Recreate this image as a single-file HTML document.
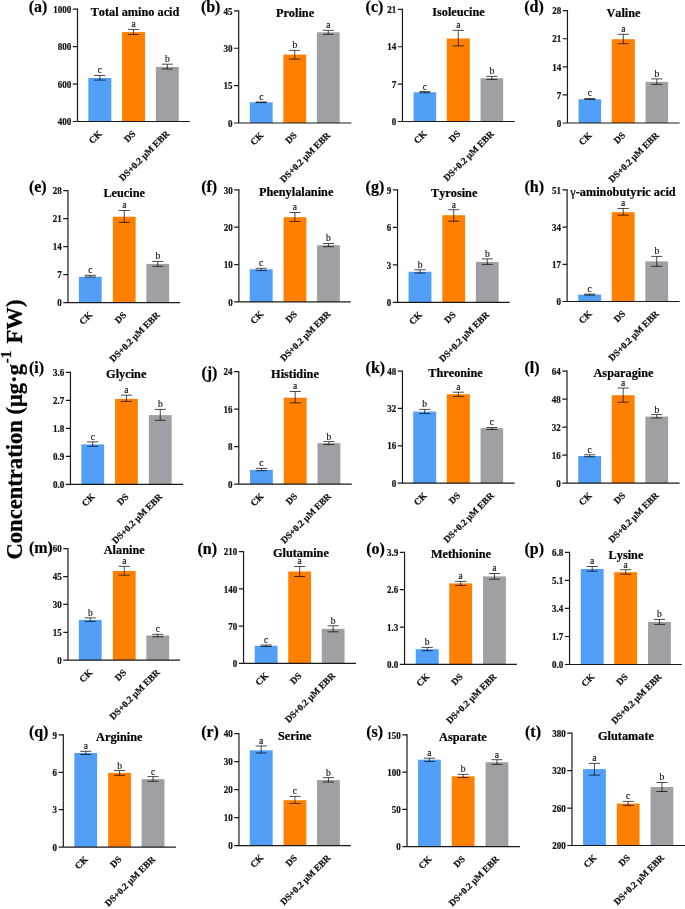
<!DOCTYPE html>
<html><head><meta charset="utf-8"><style>
html,body{margin:0;padding:0;background:#fff;}
svg{display:block;will-change:transform;}
text{font-family:"Liberation Serif",serif;fill:#111;font-kerning:none;}
.pl{font-size:16px;font-weight:bold;fill:#000;stroke:#000;stroke-width:0.2px;}
.tt{font-size:12.3px;font-weight:bold;text-anchor:middle;fill:#000;stroke:#000;stroke-width:0.2px;}
.tk{font-size:9px;font-weight:bold;text-anchor:end;stroke:#111;stroke-width:0.2px;}
.lt{font-size:9.5px;text-anchor:middle;fill:#111;stroke:#111;stroke-width:0.15px;}
.xl{font-size:9.3px;font-weight:bold;text-anchor:end;stroke:#111;stroke-width:0.25px;}
.yl{font-size:23px;font-weight:bold;text-anchor:middle;fill:#000;stroke:#000;stroke-width:0.25px;}
</style></head><body>
<svg width="685" height="909" viewBox="0 0 685 909">
<rect width="685" height="909" fill="#fff"/>
<rect x="88.35" y="78" width="23" height="43.5" fill="#529ff8"/>
<rect x="122.05" y="32.1" width="23" height="89.4" fill="#ff8000"/>
<rect x="155.85" y="66.9" width="22.9" height="54.6" fill="#a09fa4"/>
<path d="M94.22 75.5H105.47M99.85 75.5V80.1M94.22 80.1H105.47" stroke="#000" stroke-opacity="0.7" stroke-width="1" fill="none"/>
<text x="99.85" y="73.4" class="lt">c</text>
<path d="M127.93 29.4H139.18M133.55 29.4V34.5M127.93 34.5H139.18" stroke="#000" stroke-opacity="0.7" stroke-width="1" fill="none"/>
<text x="133.55" y="27.3" class="lt">a</text>
<path d="M161.7 64.2H172.9M167.3 64.2V69M161.7 69H172.9" stroke="#000" stroke-opacity="0.7" stroke-width="1" fill="none"/>
<text x="167.3" y="62.1" class="lt">b</text>
<path d="M77.5 8.6V121.5M72.8 121.5H189.8" stroke="#1a1a1a" stroke-width="1.2" fill="none"/>
<path d="M72.8 9.2H77.5M72.8 46.63H77.5M72.8 84.07H77.5" stroke="#1a1a1a" stroke-width="1.2" fill="none"/>
<text transform="translate(71.3 12.85) scale(1 1.06)" class="tk">1000</text>
<text transform="translate(71.3 50.28) scale(1 1.06)" class="tk">800</text>
<text transform="translate(71.3 87.71) scale(1 1.06)" class="tk">600</text>
<text transform="translate(71.3 125.15) scale(1 1.06)" class="tk">400</text>
<text transform="translate(102.45 134.4) rotate(-45)" class="xl">CK</text>
<text transform="translate(136.15 134.4) rotate(-45)" class="xl">DS</text>
<text transform="translate(169.9 134.4) rotate(-45)" class="xl">DS+0.2 μM EBR</text>
<text transform="translate(135 15.7) scale(1 1.06)" class="tt">Total amino acid</text>
<text x="28.7" y="11.95" class="pl">(a)</text>
<rect x="249.85" y="102.3" width="22.8" height="20.7" fill="#529ff8"/>
<rect x="283.35" y="54.6" width="22.8" height="68.4" fill="#ff8000"/>
<rect x="316.85" y="32.3" width="22.8" height="90.7" fill="#a09fa4"/>
<path d="M255.68 102H266.82M261.25 102V102.6M255.68 102.6H266.82" stroke="#000" stroke-opacity="0.7" stroke-width="1" fill="none"/>
<text x="261.25" y="99.9" class="lt">c</text>
<path d="M289.18 50.4H300.32M294.75 50.4V59.1M289.18 59.1H300.32" stroke="#000" stroke-opacity="0.7" stroke-width="1" fill="none"/>
<text x="294.75" y="48.3" class="lt">b</text>
<path d="M322.68 30.3H333.82M328.25 30.3V34.3M322.68 34.3H333.82" stroke="#000" stroke-opacity="0.7" stroke-width="1" fill="none"/>
<text x="328.25" y="28.2" class="lt">a</text>
<path d="M238.7 10.3V123M234 123H351.3" stroke="#1a1a1a" stroke-width="1.2" fill="none"/>
<path d="M234 10.9H238.7M234 48.27H238.7M234 85.63H238.7" stroke="#1a1a1a" stroke-width="1.2" fill="none"/>
<text transform="translate(232.5 14.55) scale(1 1.06)" class="tk">45</text>
<text transform="translate(232.5 51.91) scale(1 1.06)" class="tk">30</text>
<text transform="translate(232.5 89.28) scale(1 1.06)" class="tk">15</text>
<text transform="translate(232.5 126.65) scale(1 1.06)" class="tk">0</text>
<text transform="translate(263.85 135.9) rotate(-45)" class="xl">CK</text>
<text transform="translate(297.35 135.9) rotate(-45)" class="xl">DS</text>
<text transform="translate(330.85 135.9) rotate(-45)" class="xl">DS+0.2 μM EBR</text>
<text transform="translate(295 17.3) scale(1 1.06)" class="tt">Proline</text>
<text x="200.9" y="12.05" class="pl">(b)</text>
<rect x="413.55" y="92.3" width="22.6" height="29.2" fill="#529ff8"/>
<rect x="446.75" y="38.5" width="23.1" height="83" fill="#ff8000"/>
<rect x="480.55" y="78.2" width="22.6" height="43.3" fill="#a09fa4"/>
<path d="M419.33 91.6H430.38M424.85 91.6V92.8M419.33 92.8H430.38" stroke="#000" stroke-opacity="0.7" stroke-width="1" fill="none"/>
<text x="424.85" y="89.5" class="lt">c</text>
<path d="M452.65 30.3H463.95M458.3 30.3V45.9M452.65 45.9H463.95" stroke="#000" stroke-opacity="0.7" stroke-width="1" fill="none"/>
<text x="458.3" y="28.2" class="lt">a</text>
<path d="M486.33 76.4H497.38M491.85 76.4V79.4M486.33 79.4H497.38" stroke="#000" stroke-opacity="0.7" stroke-width="1" fill="none"/>
<text x="491.85" y="74.3" class="lt">b</text>
<path d="M402.45 8.8V121.5M397.75 121.5H514.6" stroke="#1a1a1a" stroke-width="1.2" fill="none"/>
<path d="M397.75 9.4H402.45M397.75 46.77H402.45M397.75 84.13H402.45" stroke="#1a1a1a" stroke-width="1.2" fill="none"/>
<text transform="translate(396.25 13.05) scale(1 1.06)" class="tk">21</text>
<text transform="translate(396.25 50.41) scale(1 1.06)" class="tk">14</text>
<text transform="translate(396.25 87.78) scale(1 1.06)" class="tk">7</text>
<text transform="translate(396.25 125.15) scale(1 1.06)" class="tk">0</text>
<text transform="translate(427.45 134.4) rotate(-45)" class="xl">CK</text>
<text transform="translate(460.9 134.4) rotate(-45)" class="xl">DS</text>
<text transform="translate(494.45 134.4) rotate(-45)" class="xl">DS+0.2 μM EBR</text>
<text transform="translate(458.5 15.5) scale(1 1.06)" class="tt">Isoleucine</text>
<text x="365.6" y="12.05" class="pl">(c)</text>
<rect x="578.55" y="99.3" width="22.6" height="23.7" fill="#529ff8"/>
<rect x="611.75" y="39.2" width="23.1" height="83.8" fill="#ff8000"/>
<rect x="645.55" y="81.9" width="22.6" height="41.1" fill="#a09fa4"/>
<path d="M584.32 98.5H595.37M589.85 98.5V99.5M584.32 99.5H595.37" stroke="#000" stroke-opacity="0.7" stroke-width="1" fill="none"/>
<text x="589.85" y="96.4" class="lt">c</text>
<path d="M617.65 34.3H628.95M623.3 34.3V43.7M617.65 43.7H628.95" stroke="#000" stroke-opacity="0.7" stroke-width="1" fill="none"/>
<text x="623.3" y="32.2" class="lt">a</text>
<path d="M651.32 78.9H662.37M656.85 78.9V84.4M651.32 84.4H662.37" stroke="#000" stroke-opacity="0.7" stroke-width="1" fill="none"/>
<text x="656.85" y="76.8" class="lt">b</text>
<path d="M567.45 10.1V123M562.75 123H679.6" stroke="#1a1a1a" stroke-width="1.2" fill="none"/>
<path d="M562.75 10.7H567.45M562.75 38.77H567.45M562.75 66.85H567.45M562.75 94.92H567.45" stroke="#1a1a1a" stroke-width="1.2" fill="none"/>
<text transform="translate(561.25 14.35) scale(1 1.06)" class="tk">28</text>
<text transform="translate(561.25 42.42) scale(1 1.06)" class="tk">21</text>
<text transform="translate(561.25 70.5) scale(1 1.06)" class="tk">14</text>
<text transform="translate(561.25 98.57) scale(1 1.06)" class="tk">7</text>
<text transform="translate(561.25 126.65) scale(1 1.06)" class="tk">0</text>
<text transform="translate(592.45 135.9) rotate(-45)" class="xl">CK</text>
<text transform="translate(625.9 135.9) rotate(-45)" class="xl">DS</text>
<text transform="translate(659.45 135.9) rotate(-45)" class="xl">DS+0.2 μM EBR</text>
<text transform="translate(623.5 16.5) scale(1 1.06)" class="tt">Valine</text>
<text x="524.2" y="11.95" class="pl">(d)</text>
<rect x="78.85" y="276.8" width="22.8" height="25.8" fill="#529ff8"/>
<rect x="112.85" y="216.7" width="22.8" height="85.9" fill="#ff8000"/>
<rect x="146.35" y="263.9" width="22.8" height="38.7" fill="#a09fa4"/>
<path d="M84.67 275.3H95.83M90.25 275.3V277M84.67 277H95.83" stroke="#000" stroke-opacity="0.7" stroke-width="1" fill="none"/>
<text x="90.25" y="273.2" class="lt">c</text>
<path d="M118.67 210.5H129.82M124.25 210.5V222.4M118.67 222.4H129.82" stroke="#000" stroke-opacity="0.7" stroke-width="1" fill="none"/>
<text x="124.25" y="208.4" class="lt">a</text>
<path d="M152.18 261.4H163.32M157.75 261.4V266.3M152.18 266.3H163.32" stroke="#000" stroke-opacity="0.7" stroke-width="1" fill="none"/>
<text x="157.75" y="259.3" class="lt">b</text>
<path d="M67.95 190V302.6M63.25 302.6H180.1" stroke="#1a1a1a" stroke-width="1.2" fill="none"/>
<path d="M63.25 190.6H67.95M63.25 218.6H67.95M63.25 246.6H67.95M63.25 274.6H67.95" stroke="#1a1a1a" stroke-width="1.2" fill="none"/>
<text transform="translate(61.75 194.25) scale(1 1.06)" class="tk">28</text>
<text transform="translate(61.75 222.25) scale(1 1.06)" class="tk">21</text>
<text transform="translate(61.75 250.25) scale(1 1.06)" class="tk">14</text>
<text transform="translate(61.75 278.25) scale(1 1.06)" class="tk">7</text>
<text transform="translate(61.75 306.25) scale(1 1.06)" class="tk">0</text>
<text transform="translate(92.85 315.5) rotate(-45)" class="xl">CK</text>
<text transform="translate(126.85 315.5) rotate(-45)" class="xl">DS</text>
<text transform="translate(160.35 315.5) rotate(-45)" class="xl">DS+0.2 μM EBR</text>
<text transform="translate(124.2 197.2) scale(1 1.06)" class="tt">Leucine</text>
<text x="28.9" y="191.7" class="pl">(e)</text>
<rect x="249.75" y="269.3" width="22.9" height="32.55" fill="#529ff8"/>
<rect x="283.55" y="217.2" width="22.8" height="84.65" fill="#ff8000"/>
<rect x="317.05" y="245.2" width="22.8" height="56.65" fill="#a09fa4"/>
<path d="M255.6 268.3H266.8M261.2 268.3V270.6M255.6 270.6H266.8" stroke="#000" stroke-opacity="0.7" stroke-width="1" fill="none"/>
<text x="261.2" y="266.2" class="lt">c</text>
<path d="M289.38 212.5H300.53M294.95 212.5V221.4M289.38 221.4H300.53" stroke="#000" stroke-opacity="0.7" stroke-width="1" fill="none"/>
<text x="294.95" y="210.4" class="lt">a</text>
<path d="M322.88 243.5H334.03M328.45 243.5V246.7M322.88 246.7H334.03" stroke="#000" stroke-opacity="0.7" stroke-width="1" fill="none"/>
<text x="328.45" y="241.4" class="lt">b</text>
<path d="M238.9 189.3V301.85M234.2 301.85H350.8" stroke="#1a1a1a" stroke-width="1.2" fill="none"/>
<path d="M234.2 189.9H238.9M234.2 227.22H238.9M234.2 264.53H238.9" stroke="#1a1a1a" stroke-width="1.2" fill="none"/>
<text transform="translate(232.7 193.55) scale(1 1.06)" class="tk">30</text>
<text transform="translate(232.7 230.86) scale(1 1.06)" class="tk">20</text>
<text transform="translate(232.7 268.18) scale(1 1.06)" class="tk">10</text>
<text transform="translate(232.7 305.5) scale(1 1.06)" class="tk">0</text>
<text transform="translate(263.8 314.75) rotate(-45)" class="xl">CK</text>
<text transform="translate(297.55 314.75) rotate(-45)" class="xl">DS</text>
<text transform="translate(331.05 314.75) rotate(-45)" class="xl">DS+0.2 μM EBR</text>
<text transform="translate(296.2 196) scale(1 1.06)" class="tt">Phenylalanine</text>
<text x="201.2" y="191.85" class="pl">(f)</text>
<rect x="408.55" y="271.8" width="22.9" height="30.6" fill="#529ff8"/>
<rect x="442.35" y="215.2" width="22.8" height="87.2" fill="#ff8000"/>
<rect x="475.85" y="261.9" width="22.8" height="40.5" fill="#a09fa4"/>
<path d="M414.4 269.8H425.6M420 269.8V273M414.4 273H425.6" stroke="#000" stroke-opacity="0.7" stroke-width="1" fill="none"/>
<text x="420" y="267.7" class="lt">b</text>
<path d="M448.18 209.7H459.32M453.75 209.7V221.2M448.18 221.2H459.32" stroke="#000" stroke-opacity="0.7" stroke-width="1" fill="none"/>
<text x="453.75" y="207.6" class="lt">a</text>
<path d="M481.68 258.9H492.82M487.25 258.9V264.4M481.68 264.4H492.82" stroke="#000" stroke-opacity="0.7" stroke-width="1" fill="none"/>
<text x="487.25" y="256.8" class="lt">b</text>
<path d="M397.55 189.3V302.4M392.85 302.4H509.6" stroke="#1a1a1a" stroke-width="1.2" fill="none"/>
<path d="M392.85 189.9H397.55M392.85 227.4H397.55M392.85 264.9H397.55" stroke="#1a1a1a" stroke-width="1.2" fill="none"/>
<text transform="translate(391.35 193.55) scale(1 1.06)" class="tk">9</text>
<text transform="translate(391.35 231.05) scale(1 1.06)" class="tk">6</text>
<text transform="translate(391.35 268.55) scale(1 1.06)" class="tk">3</text>
<text transform="translate(391.35 306.05) scale(1 1.06)" class="tk">0</text>
<text transform="translate(422.6 315.3) rotate(-45)" class="xl">CK</text>
<text transform="translate(456.35 315.3) rotate(-45)" class="xl">DS</text>
<text transform="translate(489.85 315.3) rotate(-45)" class="xl">DS+0.2 μM EBR</text>
<text transform="translate(454.2 196.5) scale(1 1.06)" class="tt">Tyrosine</text>
<text x="365.6" y="191.75" class="pl">(g)</text>
<rect x="578.25" y="294.6" width="22.9" height="6.9" fill="#529ff8"/>
<rect x="611.75" y="212.2" width="22.9" height="89.3" fill="#ff8000"/>
<rect x="645.35" y="261.4" width="22.8" height="40.1" fill="#a09fa4"/>
<path d="M584.1 294.1H595.3M589.7 294.1V295.1M584.1 295.1H595.3" stroke="#000" stroke-opacity="0.7" stroke-width="1" fill="none"/>
<text x="589.7" y="292" class="lt">c</text>
<path d="M617.6 208.5H628.8M623.2 208.5V215.2M617.6 215.2H628.8" stroke="#000" stroke-opacity="0.7" stroke-width="1" fill="none"/>
<text x="623.2" y="206.4" class="lt">a</text>
<path d="M651.17 256.4H662.33M656.75 256.4V266.3M651.17 266.3H662.33" stroke="#000" stroke-opacity="0.7" stroke-width="1" fill="none"/>
<text x="656.75" y="254.3" class="lt">b</text>
<path d="M567.1 189.3V301.5M562.4 301.5H679.6" stroke="#1a1a1a" stroke-width="1.2" fill="none"/>
<path d="M562.4 189.9H567.1M562.4 227.1H567.1M562.4 264.3H567.1" stroke="#1a1a1a" stroke-width="1.2" fill="none"/>
<text transform="translate(560.9 193.55) scale(1 1.06)" class="tk">51</text>
<text transform="translate(560.9 230.75) scale(1 1.06)" class="tk">34</text>
<text transform="translate(560.9 267.95) scale(1 1.06)" class="tk">17</text>
<text transform="translate(560.9 305.15) scale(1 1.06)" class="tk">0</text>
<text transform="translate(592.3 314.4) rotate(-45)" class="xl">CK</text>
<text transform="translate(625.8 314.4) rotate(-45)" class="xl">DS</text>
<text transform="translate(659.35 314.4) rotate(-45)" class="xl">DS+0.2 μM EBR</text>
<text transform="translate(623 195.5) scale(1 1.06)" class="tt"><tspan font-weight="normal">γ</tspan>-aminobutyric acid</text>
<text x="524.5" y="192.05" class="pl">(h)</text>
<rect x="81.35" y="444.4" width="22.8" height="39.95" fill="#529ff8"/>
<rect x="115.05" y="398.9" width="22.8" height="85.45" fill="#ff8000"/>
<rect x="148.85" y="415.1" width="22.8" height="69.25" fill="#a09fa4"/>
<path d="M87.17 441.9H98.33M92.75 441.9V446.3M87.17 446.3H98.33" stroke="#000" stroke-opacity="0.7" stroke-width="1" fill="none"/>
<text x="92.75" y="439.8" class="lt">c</text>
<path d="M120.87 395.2H132.02M126.45 395.2V401.4M120.87 401.4H132.02" stroke="#000" stroke-opacity="0.7" stroke-width="1" fill="none"/>
<text x="126.45" y="393.1" class="lt">a</text>
<path d="M154.68 409.4H165.82M160.25 409.4V420.3M154.68 420.3H165.82" stroke="#000" stroke-opacity="0.7" stroke-width="1" fill="none"/>
<text x="160.25" y="407.3" class="lt">b</text>
<path d="M70.45 371.8V484.35M65.75 484.35H183.1" stroke="#1a1a1a" stroke-width="1.2" fill="none"/>
<path d="M65.75 372.4H70.45M65.75 400.39H70.45M65.75 428.38H70.45M65.75 456.36H70.45" stroke="#1a1a1a" stroke-width="1.2" fill="none"/>
<text transform="translate(64.25 376.05) scale(1 1.06)" class="tk">3.6</text>
<text transform="translate(64.25 404.04) scale(1 1.06)" class="tk">2.7</text>
<text transform="translate(64.25 432.02) scale(1 1.06)" class="tk">1.8</text>
<text transform="translate(64.25 460.01) scale(1 1.06)" class="tk">0.9</text>
<text transform="translate(64.25 488) scale(1 1.06)" class="tk">0.0</text>
<text transform="translate(95.35 497.25) rotate(-45)" class="xl">CK</text>
<text transform="translate(129.05 497.25) rotate(-45)" class="xl">DS</text>
<text transform="translate(162.85 497.25) rotate(-45)" class="xl">DS+0.2 μM EBR</text>
<text transform="translate(126.2 378) scale(1 1.06)" class="tt">Glycine</text>
<text x="28.9" y="372.95" class="pl">(i)</text>
<rect x="250.05" y="469.9" width="22.8" height="14.15" fill="#529ff8"/>
<rect x="283.75" y="397.7" width="22.9" height="86.35" fill="#ff8000"/>
<rect x="317.55" y="443.1" width="22.8" height="40.95" fill="#a09fa4"/>
<path d="M255.88 468.4H267.03M261.45 468.4V470.7M255.88 470.7H267.03" stroke="#000" stroke-opacity="0.7" stroke-width="1" fill="none"/>
<text x="261.45" y="466.3" class="lt">c</text>
<path d="M289.6 391.5H300.8M295.2 391.5V402.9M289.6 402.9H300.8" stroke="#000" stroke-opacity="0.7" stroke-width="1" fill="none"/>
<text x="295.2" y="389.4" class="lt">a</text>
<path d="M323.38 441.6H334.53M328.95 441.6V444.6M323.38 444.6H334.53" stroke="#000" stroke-opacity="0.7" stroke-width="1" fill="none"/>
<text x="328.95" y="439.5" class="lt">b</text>
<path d="M238.8 371V484.05M234.1 484.05H351.8" stroke="#1a1a1a" stroke-width="1.2" fill="none"/>
<path d="M234.1 371.6H238.8M234.1 409.08H238.8M234.1 446.57H238.8" stroke="#1a1a1a" stroke-width="1.2" fill="none"/>
<text transform="translate(232.6 375.25) scale(1 1.06)" class="tk">24</text>
<text transform="translate(232.6 412.73) scale(1 1.06)" class="tk">16</text>
<text transform="translate(232.6 450.21) scale(1 1.06)" class="tk">8</text>
<text transform="translate(232.6 487.7) scale(1 1.06)" class="tk">0</text>
<text transform="translate(264.05 496.95) rotate(-45)" class="xl">CK</text>
<text transform="translate(297.8 496.95) rotate(-45)" class="xl">DS</text>
<text transform="translate(331.55 496.95) rotate(-45)" class="xl">DS+0.2 μM EBR</text>
<text transform="translate(295 377.5) scale(1 1.06)" class="tt">Histidine</text>
<text x="201.4" y="378.25" class="pl">(j)</text>
<rect x="413.25" y="411.6" width="22.9" height="71.6" fill="#529ff8"/>
<rect x="446.75" y="394.2" width="23.1" height="89" fill="#ff8000"/>
<rect x="480.55" y="428.2" width="22.6" height="55" fill="#a09fa4"/>
<path d="M419.1 409.4H430.3M424.7 409.4V413.6M419.1 413.6H430.3" stroke="#000" stroke-opacity="0.7" stroke-width="1" fill="none"/>
<text x="424.7" y="407.3" class="lt">b</text>
<path d="M452.65 392.2H463.95M458.3 392.2V396.4M452.65 396.4H463.95" stroke="#000" stroke-opacity="0.7" stroke-width="1" fill="none"/>
<text x="458.3" y="390.1" class="lt">a</text>
<path d="M486.33 427.5H497.38M491.85 427.5V429.5M486.33 429.5H497.38" stroke="#000" stroke-opacity="0.7" stroke-width="1" fill="none"/>
<text x="491.85" y="425.4" class="lt">c</text>
<path d="M402.45 370.5V483.2M397.75 483.2H514.6" stroke="#1a1a1a" stroke-width="1.2" fill="none"/>
<path d="M397.75 371.1H402.45M397.75 408.47H402.45M397.75 445.83H402.45" stroke="#1a1a1a" stroke-width="1.2" fill="none"/>
<text transform="translate(396.25 374.75) scale(1 1.06)" class="tk">48</text>
<text transform="translate(396.25 412.11) scale(1 1.06)" class="tk">32</text>
<text transform="translate(396.25 449.48) scale(1 1.06)" class="tk">16</text>
<text transform="translate(396.25 486.85) scale(1 1.06)" class="tk">0</text>
<text transform="translate(427.3 496.1) rotate(-45)" class="xl">CK</text>
<text transform="translate(460.9 496.1) rotate(-45)" class="xl">DS</text>
<text transform="translate(494.45 496.1) rotate(-45)" class="xl">DS+0.2 μM EBR</text>
<text transform="translate(455.5 376.5) scale(1 1.06)" class="tt">Threonine</text>
<text x="365.6" y="373.05" class="pl">(k)</text>
<rect x="578.25" y="456" width="22.9" height="27.15" fill="#529ff8"/>
<rect x="611.75" y="395.2" width="22.9" height="87.95" fill="#ff8000"/>
<rect x="645.35" y="416.6" width="22.8" height="66.55" fill="#a09fa4"/>
<path d="M584.1 454.8H595.3M589.7 454.8V456.8M584.1 456.8H595.3" stroke="#000" stroke-opacity="0.7" stroke-width="1" fill="none"/>
<text x="589.7" y="452.7" class="lt">c</text>
<path d="M617.6 388H628.8M623.2 388V402.2M617.6 402.2H628.8" stroke="#000" stroke-opacity="0.7" stroke-width="1" fill="none"/>
<text x="623.2" y="385.9" class="lt">a</text>
<path d="M651.17 414.6H662.33M656.75 414.6V418M651.17 418H662.33" stroke="#000" stroke-opacity="0.7" stroke-width="1" fill="none"/>
<text x="656.75" y="412.5" class="lt">b</text>
<path d="M567 370.5V483.15M562.3 483.15H679.6" stroke="#1a1a1a" stroke-width="1.2" fill="none"/>
<path d="M562.3 371.1H567M562.3 399.11H567M562.3 427.12H567M562.3 455.14H567" stroke="#1a1a1a" stroke-width="1.2" fill="none"/>
<text transform="translate(560.8 374.75) scale(1 1.06)" class="tk">64</text>
<text transform="translate(560.8 402.76) scale(1 1.06)" class="tk">48</text>
<text transform="translate(560.8 430.77) scale(1 1.06)" class="tk">32</text>
<text transform="translate(560.8 458.79) scale(1 1.06)" class="tk">16</text>
<text transform="translate(560.8 486.8) scale(1 1.06)" class="tk">0</text>
<text transform="translate(592.3 496.05) rotate(-45)" class="xl">CK</text>
<text transform="translate(625.8 496.05) rotate(-45)" class="xl">DS</text>
<text transform="translate(659.35 496.05) rotate(-45)" class="xl">DS+0.2 μM EBR</text>
<text transform="translate(623.5 377.2) scale(1 1.06)" class="tt">Asparagine</text>
<text x="524.5" y="373.25" class="pl">(l)</text>
<rect x="78.85" y="619.9" width="22.8" height="40.25" fill="#529ff8"/>
<rect x="112.85" y="571" width="22.8" height="89.15" fill="#ff8000"/>
<rect x="146.35" y="635.5" width="22.8" height="24.65" fill="#a09fa4"/>
<path d="M84.67 617.9H95.83M90.25 617.9V621.4M84.67 621.4H95.83" stroke="#000" stroke-opacity="0.7" stroke-width="1" fill="none"/>
<text x="90.25" y="615.8" class="lt">b</text>
<path d="M118.67 566.3H129.82M124.25 566.3V575.2M118.67 575.2H129.82" stroke="#000" stroke-opacity="0.7" stroke-width="1" fill="none"/>
<text x="124.25" y="564.2" class="lt">a</text>
<path d="M152.18 634.3H163.32M157.75 634.3V636.8M152.18 636.8H163.32" stroke="#000" stroke-opacity="0.7" stroke-width="1" fill="none"/>
<text x="157.75" y="632.2" class="lt">c</text>
<path d="M67.95 548.1V660.15M63.25 660.15H180.1" stroke="#1a1a1a" stroke-width="1.2" fill="none"/>
<path d="M63.25 548.7H67.95M63.25 576.56H67.95M63.25 604.42H67.95M63.25 632.29H67.95" stroke="#1a1a1a" stroke-width="1.2" fill="none"/>
<text transform="translate(61.75 552.35) scale(1 1.06)" class="tk">60</text>
<text transform="translate(61.75 580.21) scale(1 1.06)" class="tk">45</text>
<text transform="translate(61.75 608.07) scale(1 1.06)" class="tk">30</text>
<text transform="translate(61.75 635.94) scale(1 1.06)" class="tk">15</text>
<text transform="translate(61.75 663.8) scale(1 1.06)" class="tk">0</text>
<text transform="translate(92.85 673.05) rotate(-45)" class="xl">CK</text>
<text transform="translate(126.85 673.05) rotate(-45)" class="xl">DS</text>
<text transform="translate(160.35 673.05) rotate(-45)" class="xl">DS+0.2 μM EBR</text>
<text transform="translate(124.2 554) scale(1 1.06)" class="tt">Alanine</text>
<text x="28.9" y="552.65" class="pl">(m)</text>
<rect x="254.75" y="645.7" width="22.8" height="17.65" fill="#529ff8"/>
<rect x="288.25" y="571.5" width="22.8" height="91.85" fill="#ff8000"/>
<rect x="321.75" y="628.8" width="22.8" height="34.55" fill="#a09fa4"/>
<path d="M260.57 645H271.72M266.15 645V646.5M260.57 646.5H271.72" stroke="#000" stroke-opacity="0.7" stroke-width="1" fill="none"/>
<text x="266.15" y="642.9" class="lt">c</text>
<path d="M294.07 566.5H305.22M299.65 566.5V576.5M294.07 576.5H305.22" stroke="#000" stroke-opacity="0.7" stroke-width="1" fill="none"/>
<text x="299.65" y="564.4" class="lt">a</text>
<path d="M327.57 625.8H338.72M333.15 625.8V631.8M327.57 631.8H338.72" stroke="#000" stroke-opacity="0.7" stroke-width="1" fill="none"/>
<text x="333.15" y="623.7" class="lt">b</text>
<path d="M243.55 551V663.35M238.85 663.35H356" stroke="#1a1a1a" stroke-width="1.2" fill="none"/>
<path d="M238.85 551.6H243.55M238.85 588.85H243.55M238.85 626.1H243.55" stroke="#1a1a1a" stroke-width="1.2" fill="none"/>
<text transform="translate(237.35 555.25) scale(1 1.06)" class="tk">210</text>
<text transform="translate(237.35 592.5) scale(1 1.06)" class="tk">140</text>
<text transform="translate(237.35 629.75) scale(1 1.06)" class="tk">70</text>
<text transform="translate(237.35 667) scale(1 1.06)" class="tk">0</text>
<text transform="translate(268.75 676.25) rotate(-45)" class="xl">CK</text>
<text transform="translate(302.25 676.25) rotate(-45)" class="xl">DS</text>
<text transform="translate(335.75 676.25) rotate(-45)" class="xl">DS+0.2 μM EBR</text>
<text transform="translate(300.9 557.2) scale(1 1.06)" class="tt">Glutamine</text>
<text x="197.5" y="554.25" class="pl">(n)</text>
<rect x="415.75" y="649.2" width="22.9" height="15.15" fill="#529ff8"/>
<rect x="449.25" y="583.4" width="22.9" height="80.95" fill="#ff8000"/>
<rect x="483.05" y="576.4" width="22.8" height="87.95" fill="#a09fa4"/>
<path d="M421.6 647.4H432.8M427.2 647.4V650.7M421.6 650.7H432.8" stroke="#000" stroke-opacity="0.7" stroke-width="1" fill="none"/>
<text x="427.2" y="645.3" class="lt">b</text>
<path d="M455.1 581.4H466.3M460.7 581.4V585.4M455.1 585.4H466.3" stroke="#000" stroke-opacity="0.7" stroke-width="1" fill="none"/>
<text x="460.7" y="579.3" class="lt">a</text>
<path d="M488.88 573.5H500.03M494.45 573.5V579.2M488.88 579.2H500.03" stroke="#000" stroke-opacity="0.7" stroke-width="1" fill="none"/>
<text x="494.45" y="571.4" class="lt">a</text>
<path d="M404.55 551.8V664.35M399.85 664.35H516.8" stroke="#1a1a1a" stroke-width="1.2" fill="none"/>
<path d="M399.85 552.4H404.55M399.85 589.72H404.55M399.85 627.03H404.55" stroke="#1a1a1a" stroke-width="1.2" fill="none"/>
<text transform="translate(398.35 556.05) scale(1 1.06)" class="tk">3.9</text>
<text transform="translate(398.35 593.36) scale(1 1.06)" class="tk">2.6</text>
<text transform="translate(398.35 630.68) scale(1 1.06)" class="tk">1.3</text>
<text transform="translate(398.35 668) scale(1 1.06)" class="tk">0.0</text>
<text transform="translate(429.8 677.25) rotate(-45)" class="xl">CK</text>
<text transform="translate(463.3 677.25) rotate(-45)" class="xl">DS</text>
<text transform="translate(497.05 677.25) rotate(-45)" class="xl">DS+0.2 μM EBR</text>
<text transform="translate(461 558) scale(1 1.06)" class="tt">Methionine</text>
<text x="366.2" y="554.45" class="pl">(o)</text>
<rect x="580.75" y="569" width="22.9" height="95.5" fill="#529ff8"/>
<rect x="614.25" y="572.2" width="22.9" height="92.3" fill="#ff8000"/>
<rect x="648.05" y="621.9" width="22.8" height="42.6" fill="#a09fa4"/>
<path d="M586.6 566.5H597.8M592.2 566.5V571.2M586.6 571.2H597.8" stroke="#000" stroke-opacity="0.7" stroke-width="1" fill="none"/>
<text x="592.2" y="564.4" class="lt">a</text>
<path d="M620.1 569.7H631.3M625.7 569.7V574.2M620.1 574.2H631.3" stroke="#000" stroke-opacity="0.7" stroke-width="1" fill="none"/>
<text x="625.7" y="567.6" class="lt">a</text>
<path d="M653.88 619.4H665.03M659.45 619.4V624.4M653.88 624.4H665.03" stroke="#000" stroke-opacity="0.7" stroke-width="1" fill="none"/>
<text x="659.45" y="617.3" class="lt">b</text>
<path d="M569.55 551.8V664.5M564.85 664.5H681.8" stroke="#1a1a1a" stroke-width="1.2" fill="none"/>
<path d="M564.85 552.4H569.55M564.85 580.42H569.55M564.85 608.45H569.55M564.85 636.48H569.55" stroke="#1a1a1a" stroke-width="1.2" fill="none"/>
<text transform="translate(563.35 556.05) scale(1 1.06)" class="tk">6.8</text>
<text transform="translate(563.35 584.07) scale(1 1.06)" class="tk">5.1</text>
<text transform="translate(563.35 612.1) scale(1 1.06)" class="tk">3.4</text>
<text transform="translate(563.35 640.12) scale(1 1.06)" class="tk">1.7</text>
<text transform="translate(563.35 668.15) scale(1 1.06)" class="tk">0.0</text>
<text transform="translate(594.8 677.4) rotate(-45)" class="xl">CK</text>
<text transform="translate(628.3 677.4) rotate(-45)" class="xl">DS</text>
<text transform="translate(662.05 677.4) rotate(-45)" class="xl">DS+0.2 μM EBR</text>
<text transform="translate(626 559) scale(1 1.06)" class="tt">Lysine</text>
<text x="524.5" y="554.45" class="pl">(p)</text>
<rect x="74.35" y="753" width="22.8" height="94.05" fill="#529ff8"/>
<rect x="108.15" y="772.9" width="22.8" height="74.15" fill="#ff8000"/>
<rect x="141.65" y="779.1" width="22.8" height="67.95" fill="#a09fa4"/>
<path d="M80.17 751.3H91.33M85.75 751.3V754.5M80.17 754.5H91.33" stroke="#000" stroke-opacity="0.7" stroke-width="1" fill="none"/>
<text x="85.75" y="749.2" class="lt">a</text>
<path d="M113.97 770.6H125.12M119.55 770.6V775.3M113.97 775.3H125.12" stroke="#000" stroke-opacity="0.7" stroke-width="1" fill="none"/>
<text x="119.55" y="768.5" class="lt">b</text>
<path d="M147.48 776.6H158.62M153.05 776.6V781.3M147.48 781.3H158.62" stroke="#000" stroke-opacity="0.7" stroke-width="1" fill="none"/>
<text x="153.05" y="774.5" class="lt">c</text>
<path d="M63.3 734.3V847.05M58.6 847.05H175.9" stroke="#1a1a1a" stroke-width="1.2" fill="none"/>
<path d="M58.6 734.9H63.3M58.6 772.28H63.3M58.6 809.67H63.3" stroke="#1a1a1a" stroke-width="1.2" fill="none"/>
<text transform="translate(57.1 738.55) scale(1 1.06)" class="tk">9</text>
<text transform="translate(57.1 775.93) scale(1 1.06)" class="tk">6</text>
<text transform="translate(57.1 813.31) scale(1 1.06)" class="tk">3</text>
<text transform="translate(57.1 850.7) scale(1 1.06)" class="tk">0</text>
<text transform="translate(88.35 859.95) rotate(-45)" class="xl">CK</text>
<text transform="translate(122.15 859.95) rotate(-45)" class="xl">DS</text>
<text transform="translate(155.65 859.95) rotate(-45)" class="xl">DS+0.2 μM EBR</text>
<text transform="translate(119.3 740.5) scale(1 1.06)" class="tt">Arginine</text>
<text x="28.9" y="736.85" class="pl">(q)</text>
<rect x="249.75" y="750.3" width="22.9" height="95.3" fill="#529ff8"/>
<rect x="283.55" y="800.2" width="22.8" height="45.4" fill="#ff8000"/>
<rect x="317.05" y="780.1" width="22.8" height="65.5" fill="#a09fa4"/>
<path d="M255.6 746H266.8M261.2 746V753M255.6 753H266.8" stroke="#000" stroke-opacity="0.7" stroke-width="1" fill="none"/>
<text x="261.2" y="743.9" class="lt">a</text>
<path d="M289.38 796.4H300.53M294.95 796.4V803.4M289.38 803.4H300.53" stroke="#000" stroke-opacity="0.7" stroke-width="1" fill="none"/>
<text x="294.95" y="794.3" class="lt">c</text>
<path d="M322.88 777.6H334.03M328.45 777.6V782M322.88 782H334.03" stroke="#000" stroke-opacity="0.7" stroke-width="1" fill="none"/>
<text x="328.45" y="775.5" class="lt">b</text>
<path d="M238.95 733.1V845.6M234.25 845.6H350.8" stroke="#1a1a1a" stroke-width="1.2" fill="none"/>
<path d="M234.25 733.7H238.95M234.25 761.68H238.95M234.25 789.65H238.95M234.25 817.62H238.95" stroke="#1a1a1a" stroke-width="1.2" fill="none"/>
<text transform="translate(232.75 737.35) scale(1 1.06)" class="tk">40</text>
<text transform="translate(232.75 765.32) scale(1 1.06)" class="tk">30</text>
<text transform="translate(232.75 793.3) scale(1 1.06)" class="tk">20</text>
<text transform="translate(232.75 821.27) scale(1 1.06)" class="tk">10</text>
<text transform="translate(232.75 849.25) scale(1 1.06)" class="tk">0</text>
<text transform="translate(263.8 858.5) rotate(-45)" class="xl">CK</text>
<text transform="translate(297.55 858.5) rotate(-45)" class="xl">DS</text>
<text transform="translate(331.05 858.5) rotate(-45)" class="xl">DS+0.2 μM EBR</text>
<text transform="translate(294.7 739.7) scale(1 1.06)" class="tt">Serine</text>
<text x="201.2" y="736.85" class="pl">(r)</text>
<rect x="418.05" y="759.7" width="22.8" height="87" fill="#529ff8"/>
<rect x="451.75" y="776.3" width="22.8" height="70.4" fill="#ff8000"/>
<rect x="485.55" y="762.2" width="22.8" height="84.5" fill="#a09fa4"/>
<path d="M423.88 758.2H435.03M429.45 758.2V761.4M423.88 761.4H435.03" stroke="#000" stroke-opacity="0.7" stroke-width="1" fill="none"/>
<text x="429.45" y="756.1" class="lt">a</text>
<path d="M457.57 774.4H468.72M463.15 774.4V777.6M457.57 777.6H468.72" stroke="#000" stroke-opacity="0.7" stroke-width="1" fill="none"/>
<text x="463.15" y="772.3" class="lt">b</text>
<path d="M491.38 759.7H502.53M496.95 759.7V764.4M491.38 764.4H502.53" stroke="#000" stroke-opacity="0.7" stroke-width="1" fill="none"/>
<text x="496.95" y="757.6" class="lt">a</text>
<path d="M407 734.3V846.7M402.3 846.7H520" stroke="#1a1a1a" stroke-width="1.2" fill="none"/>
<path d="M402.3 734.9H407M402.3 772.17H407M402.3 809.43H407" stroke="#1a1a1a" stroke-width="1.2" fill="none"/>
<text transform="translate(400.8 738.55) scale(1 1.06)" class="tk">150</text>
<text transform="translate(400.8 775.81) scale(1 1.06)" class="tk">100</text>
<text transform="translate(400.8 813.08) scale(1 1.06)" class="tk">50</text>
<text transform="translate(400.8 850.35) scale(1 1.06)" class="tk">0</text>
<text transform="translate(432.05 859.6) rotate(-45)" class="xl">CK</text>
<text transform="translate(465.75 859.6) rotate(-45)" class="xl">DS</text>
<text transform="translate(499.55 859.6) rotate(-45)" class="xl">DS+0.2 μM EBR</text>
<text transform="translate(462.9 740.5) scale(1 1.06)" class="tt">Asparate</text>
<text x="366.2" y="736.95" class="pl">(s)</text>
<rect x="583.05" y="769.1" width="22.8" height="76.4" fill="#529ff8"/>
<rect x="616.75" y="803.6" width="22.8" height="41.9" fill="#ff8000"/>
<rect x="650.55" y="787" width="22.8" height="58.5" fill="#a09fa4"/>
<path d="M588.88 763.4H600.03M594.45 763.4V775.1M588.88 775.1H600.03" stroke="#000" stroke-opacity="0.7" stroke-width="1" fill="none"/>
<text x="594.45" y="761.3" class="lt">a</text>
<path d="M622.58 801.4H633.72M628.15 801.4V805.4M622.58 805.4H633.72" stroke="#000" stroke-opacity="0.7" stroke-width="1" fill="none"/>
<text x="628.15" y="799.3" class="lt">c</text>
<path d="M656.38 782.5H667.53M661.95 782.5V791.5M656.38 791.5H667.53" stroke="#000" stroke-opacity="0.7" stroke-width="1" fill="none"/>
<text x="661.95" y="780.4" class="lt">b</text>
<path d="M571.95 732.6V845.5M567.25 845.5H685" stroke="#1a1a1a" stroke-width="1.2" fill="none"/>
<path d="M567.25 733.2H571.95M567.25 770.63H571.95M567.25 808.07H571.95" stroke="#1a1a1a" stroke-width="1.2" fill="none"/>
<text transform="translate(565.75 736.85) scale(1 1.06)" class="tk">380</text>
<text transform="translate(565.75 774.28) scale(1 1.06)" class="tk">320</text>
<text transform="translate(565.75 811.71) scale(1 1.06)" class="tk">260</text>
<text transform="translate(565.75 849.15) scale(1 1.06)" class="tk">200</text>
<text transform="translate(597.05 858.4) rotate(-45)" class="xl">CK</text>
<text transform="translate(630.75 858.4) rotate(-45)" class="xl">DS</text>
<text transform="translate(664.55 858.4) rotate(-45)" class="xl">DS+0.2 μM EBR</text>
<text transform="translate(626 739.7) scale(1 1.06)" class="tt">Glutamate</text>
<text x="525" y="736.75" class="pl">(t)</text>
<text transform="translate(22 559.5) rotate(-90)" class="yl" style="font-size:22.6px;text-anchor:start">Concentration (μg·g</text><text transform="translate(10.6 363.3) rotate(-90)" class="yl" style="font-size:15px;text-anchor:start">-1</text><text transform="translate(22 343.5) rotate(-90)" class="yl" style="font-size:22.6px;text-anchor:start">FW)</text>
</svg>
</body></html>
